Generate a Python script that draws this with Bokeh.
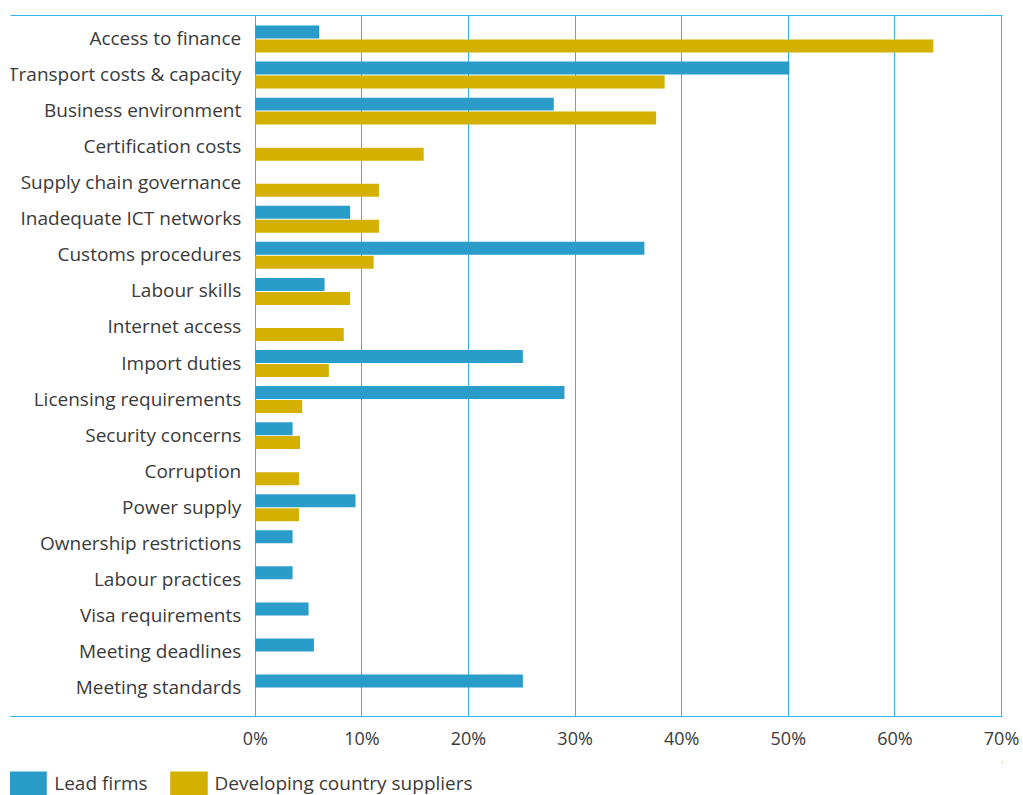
from bokeh.plotting import figure
from bokeh.layouts import column
from bokeh.models import Range1d, FixedTicker, LinearAxis, Legend, LegendItem, ColumnDataSource
from bokeh.transform import dodge
from bokeh.core.properties import value
from bokeh.embed import file_html
from bokeh.resources import INLINE

categories = [
    "Access to finance", "Transport costs & capacity", "Business environment",
    "Certification costs", "Supply chain governance", "Inadequate ICT networks",
    "Customs procedures", "Labour skills", "Internet access", "Import duties",
    "Licensing requirements", "Security concerns", "Corruption", "Power supply",
    "Ownership restrictions", "Labour practices", "Visa requirements",
    "Meeting deadlines", "Meeting standards",
]
lead_firms = [6.0, 50.1, 28.0, 0, 0, 8.9, 36.5, 6.5, 0, 25.1,
              29.0, 3.5, 0, 9.4, 3.5, 3.5, 5.0, 5.5, 25.1]
suppliers = [63.6, 38.4, 37.6, 15.8, 11.6, 11.6, 11.1, 8.9, 8.3, 6.9,
             4.4, 4.2, 4.1, 4.1, 0, 0, 0, 0, 0]
x_ticks = [0, 10, 20, 30, 40, 50, 60, 70]
tick_labels = ["0%", "10%", "20%", "30%", "40%", "50%", "60%", "70%"]
series_names = ["Lead firms", "Developing country suppliers"]

BLUE = "#299CC9"
GOLD = "#D4B002"
LINE = "#2BB7EC"
TEXT = "#3a3a3a"
FONT = "Open Sans"

n = len(categories)
source = ColumnDataSource(dict(
    cat=categories,
    y=[n - 1 - i for i in range(n)],
    lead=lead_firms,
    sup=suppliers,
))

p = figure(
    width=1023, height=762,
    x_range=Range1d(-22.96, 70.09),
    y_range=Range1d(-0.79, 18.652),
    output_backend="svg", toolbar_location=None,
    y_axis_location=None,
    min_border_left=10, min_border_right=21, min_border_top=15, min_border_bottom=46,
)
p.outline_line_color = None
p.ygrid.visible = False
p.xgrid.ticker = FixedTicker(ticks=x_ticks)
p.xgrid.grid_line_color = LINE
p.xgrid.grid_line_width = 1

xa = p.xaxis[0]
xa.ticker = FixedTicker(ticks=x_ticks)
xa.major_label_overrides = {t: lab for t, lab in zip(x_ticks, tick_labels)}
xa.axis_line_color = LINE
xa.major_tick_line_color = None
xa.minor_tick_line_color = None
xa.major_tick_out = 0
xa.major_tick_in = 0
xa.major_label_standoff = 9
xa.major_label_text_font = FONT
xa.major_label_text_font_size = "18px"
xa.major_label_text_color = TEXT

top = LinearAxis(ticker=FixedTicker(ticks=[]))
top.axis_line_color = LINE
top.major_tick_line_color = None
top.minor_tick_line_color = None
top.major_tick_out = 0
top.major_tick_in = 0
top.major_label_standoff = 0
top.major_label_text_font_size = "0px"
p.add_layout(top, "above")

p.hbar(y=dodge("y", 0.194), left=0, right="lead", height=0.3605,
       fill_color=BLUE, line_color=None, source=source)
p.hbar(y=dodge("y", -0.194), left=0, right="sup", height=0.3605,
       fill_color=GOLD, line_color=None, source=source)

p.text(x=0, y="y", text="cat", source=source, x_offset=-14, y_offset=-1,
       text_align="right", text_baseline="middle",
       text_font=value(FONT), text_font_size="19px", text_color=TEXT)

# Legend strip below the chart (series renderers kept outside its visible ranges)
lg = figure(
    width=1023, height=33,
    x_range=Range1d(-100, -99), y_range=Range1d(-100, -99),
    output_backend="svg", toolbar_location=None,
    x_axis_location=None, y_axis_location=None,
    min_border_left=0, min_border_right=0, min_border_top=0, min_border_bottom=0,
)
lg.outline_line_color = None
lg.grid.visible = False
l1 = lg.hbar(y="y", left=0, right="lead", height=0.3605, fill_color=BLUE,
             line_color=None, source=source)
l2 = lg.hbar(y="y", left=0, right="sup", height=0.3605, fill_color=GOLD,
             line_color=None, source=source)

legend = Legend(
    items=[LegendItem(label=series_names[0], renderers=[l1]),
           LegendItem(label=series_names[1], renderers=[l2])],
    orientation="horizontal", location=(-5.75, -3),
    glyph_width=47, glyph_height=30, label_standoff=3, spacing=17,
    padding=0, margin=0, border_line_color=None, background_fill_alpha=0,
    label_text_font=FONT, label_text_font_size="19px", label_text_color=TEXT,
)
lg.add_layout(legend)

layout = column(p, lg, spacing=0)
open("out.html", "w").write(file_html(layout, INLINE))
